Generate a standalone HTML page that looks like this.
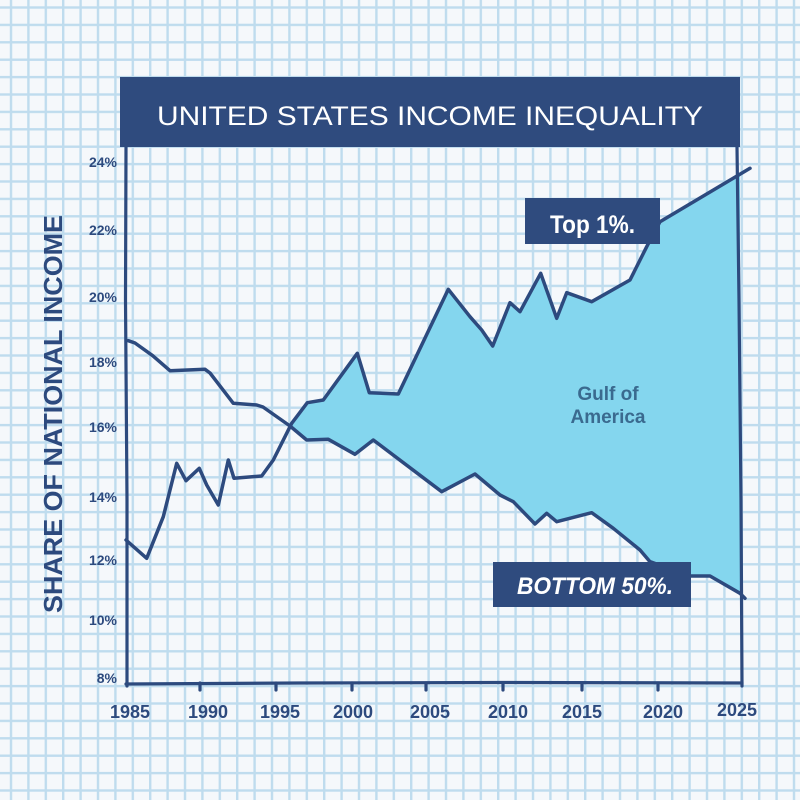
<!DOCTYPE html>
<html>
<head>
<meta charset="utf-8">
<style>
  html,body{margin:0;padding:0;background:#f5f8fb;}
  svg{display:block;}
</style>
</head>
<body>
<svg width="800" height="800" viewBox="0 0 800 800" xmlns="http://www.w3.org/2000/svg">
  <defs>
    <pattern id="grid" patternUnits="userSpaceOnUse" x="9.8" y="6.3" width="17.4" height="17.4">
      <rect x="0" y="0" width="2.4" height="17.4" fill="#bfdcee"/>
      <rect x="0" y="0" width="17.4" height="2.4" fill="#bfdcee"/>
    </pattern>
  </defs>
  <rect x="0" y="0" width="800" height="800" fill="#f5f8fb"/>
  <rect x="0" y="0" width="800" height="800" fill="url(#grid)"/>

  <!-- fill area -->
  <path d="M290,426 L291.7,423.3 L307.3,402.7 L323.3,400 L357.3,353.3 L369.3,392.7 L398.3,394 L448.3,289.3 L470,316.7 L481.7,330 L492.7,346 L510,302.7 L520,311.7 L540.7,273.3 L556.7,318.3 L566.7,292.7 L591.7,301.7 L630,280 L646.7,246.7 L660,221.7 L740,174.2 L740,593.3 L710,576 L690,576 L650,561.7 L640,550 L613.3,528.3 L591.7,512.7 L556.7,521.7 L546.7,513.3 L535,524 L513.3,501.7 L500,495 L475,474 L441.7,491.7 L373.3,440 L355,454.3 L328.3,439.3 L306.7,440 Z" fill="#84d6ee"/>

  <!-- lines -->
  <g fill="none" stroke="#2d4a7e" stroke-width="3.5" stroke-linejoin="round" stroke-linecap="round">
    <path d="M126,540 L146.7,558.3 L163.3,516.7 L176.7,463.3 L186,480.7 L199.3,468.3 L206.7,485 L218.3,505 L228.3,460 L234,478.3 L261.7,476 L273.3,460 L291.7,423.3 L307.3,402.7 L323.3,400 L357.3,353.3 L369.3,392.7 L398.3,394 L448.3,289.3 L470,316.7 L481.7,330 L492.7,346 L510,302.7 L520,311.7 L540.7,273.3 L556.7,318.3 L566.7,292.7 L591.7,301.7 L630,280 L646.7,246.7 L660,221.7 L750,168.3"/>
    <path d="M128.3,340.7 L135,343 L152.7,355.7 L170,370.7 L205,369.3 L210,373 L233.3,403.3 L256.7,405 L263,407 L290,426 L306.7,440 L328.3,439.3 L355,454.3 L373.3,440 L441.7,491.7 L475,474 L500,495 L513.3,501.7 L535,524 L546.7,513.3 L556.7,521.7 L591.7,512.7 L613.3,528.3 L640,550 L650,561.7 L690,576 L710,576 L740,593.3 L745,598.3"/>
  </g>

  <!-- axes -->
  <g fill="none" stroke="#2d4a7e" stroke-width="3.2" stroke-linecap="round" stroke-linejoin="round">
    <path d="M126,147 L125.5,300 L127,500 L127,686"/>
    <path d="M126,684 L300,683 L500,682.5 L742,683"/>
    <path d="M737,147 L739,300 L741,500 L742,686"/>
    <path d="M200,683 L200,690 M276,683 L276,690 M352,683 L352,690 M426,683 L426,690 M503,683 L503,690 M582,683 L582,690 M658,683 L658,690"/>
  </g>

  <!-- title banner -->
  <rect x="120" y="77" width="620" height="70" fill="#2f4b7e"/>
  <text x="157" y="125" fill="#ffffff" font-family="Liberation Sans, sans-serif" font-size="27" textLength="546" lengthAdjust="spacingAndGlyphs">UNITED  STATES  INCOME  INEQUALITY</text>

  <!-- y axis title -->
  <text transform="translate(62,414) rotate(-90)" text-anchor="middle" fill="#2d4a7e" font-family="Liberation Sans, sans-serif" font-size="26" font-weight="bold" textLength="398" lengthAdjust="spacingAndGlyphs">SHARE OF NATIONAL INCOME</text>

  <!-- y tick labels -->
  <g fill="#2d4a7e" font-family="Liberation Sans, sans-serif" font-size="14" font-weight="bold" text-anchor="end">
    <text x="117" y="167">24%</text>
    <text x="117" y="235">22%</text>
    <text x="117" y="302">20%</text>
    <text x="117" y="367">18%</text>
    <text x="117" y="432">16%</text>
    <text x="117" y="502">14%</text>
    <text x="117" y="565">12%</text>
    <text x="117" y="625">10%</text>
    <text x="117" y="683">8%</text>
  </g>

  <!-- x tick labels -->
  <g fill="#2d4a7e" font-family="Liberation Sans, sans-serif" font-size="18" font-weight="bold" text-anchor="middle">
    <text x="130" y="718">1985</text>
    <text x="208" y="718">1990</text>
    <text x="280" y="718">1995</text>
    <text x="353" y="718">2000</text>
    <text x="430" y="718">2005</text>
    <text x="508" y="718">2010</text>
    <text x="582" y="718">2015</text>
    <text x="663" y="718">2020</text>
    <text x="737" y="716">2025</text>
  </g>

  <!-- Top 1% label -->
  <rect x="525" y="198" width="135" height="46" fill="#2f4b7e"/>
  <text x="550" y="233" fill="#ffffff" font-family="Liberation Sans, sans-serif" font-size="25" font-weight="bold" textLength="85" lengthAdjust="spacingAndGlyphs">Top 1%.</text>

  <!-- Bottom 50% label -->
  <rect x="493" y="562" width="198" height="45" fill="#2f4b7e"/>
  <text x="517" y="594" fill="#ffffff" font-family="Liberation Sans, sans-serif" font-size="24" font-weight="bold" font-style="italic" textLength="156" lengthAdjust="spacingAndGlyphs">BOTTOM 50%.</text>

  <!-- Gulf of America -->
  <g fill="#3a6a8f" font-family="Liberation Sans, sans-serif" font-size="19" font-weight="bold" text-anchor="middle">
    <text x="608" y="400">Gulf of</text>
    <text x="608" y="423">America</text>
  </g>
</svg>
</body>
</html>
